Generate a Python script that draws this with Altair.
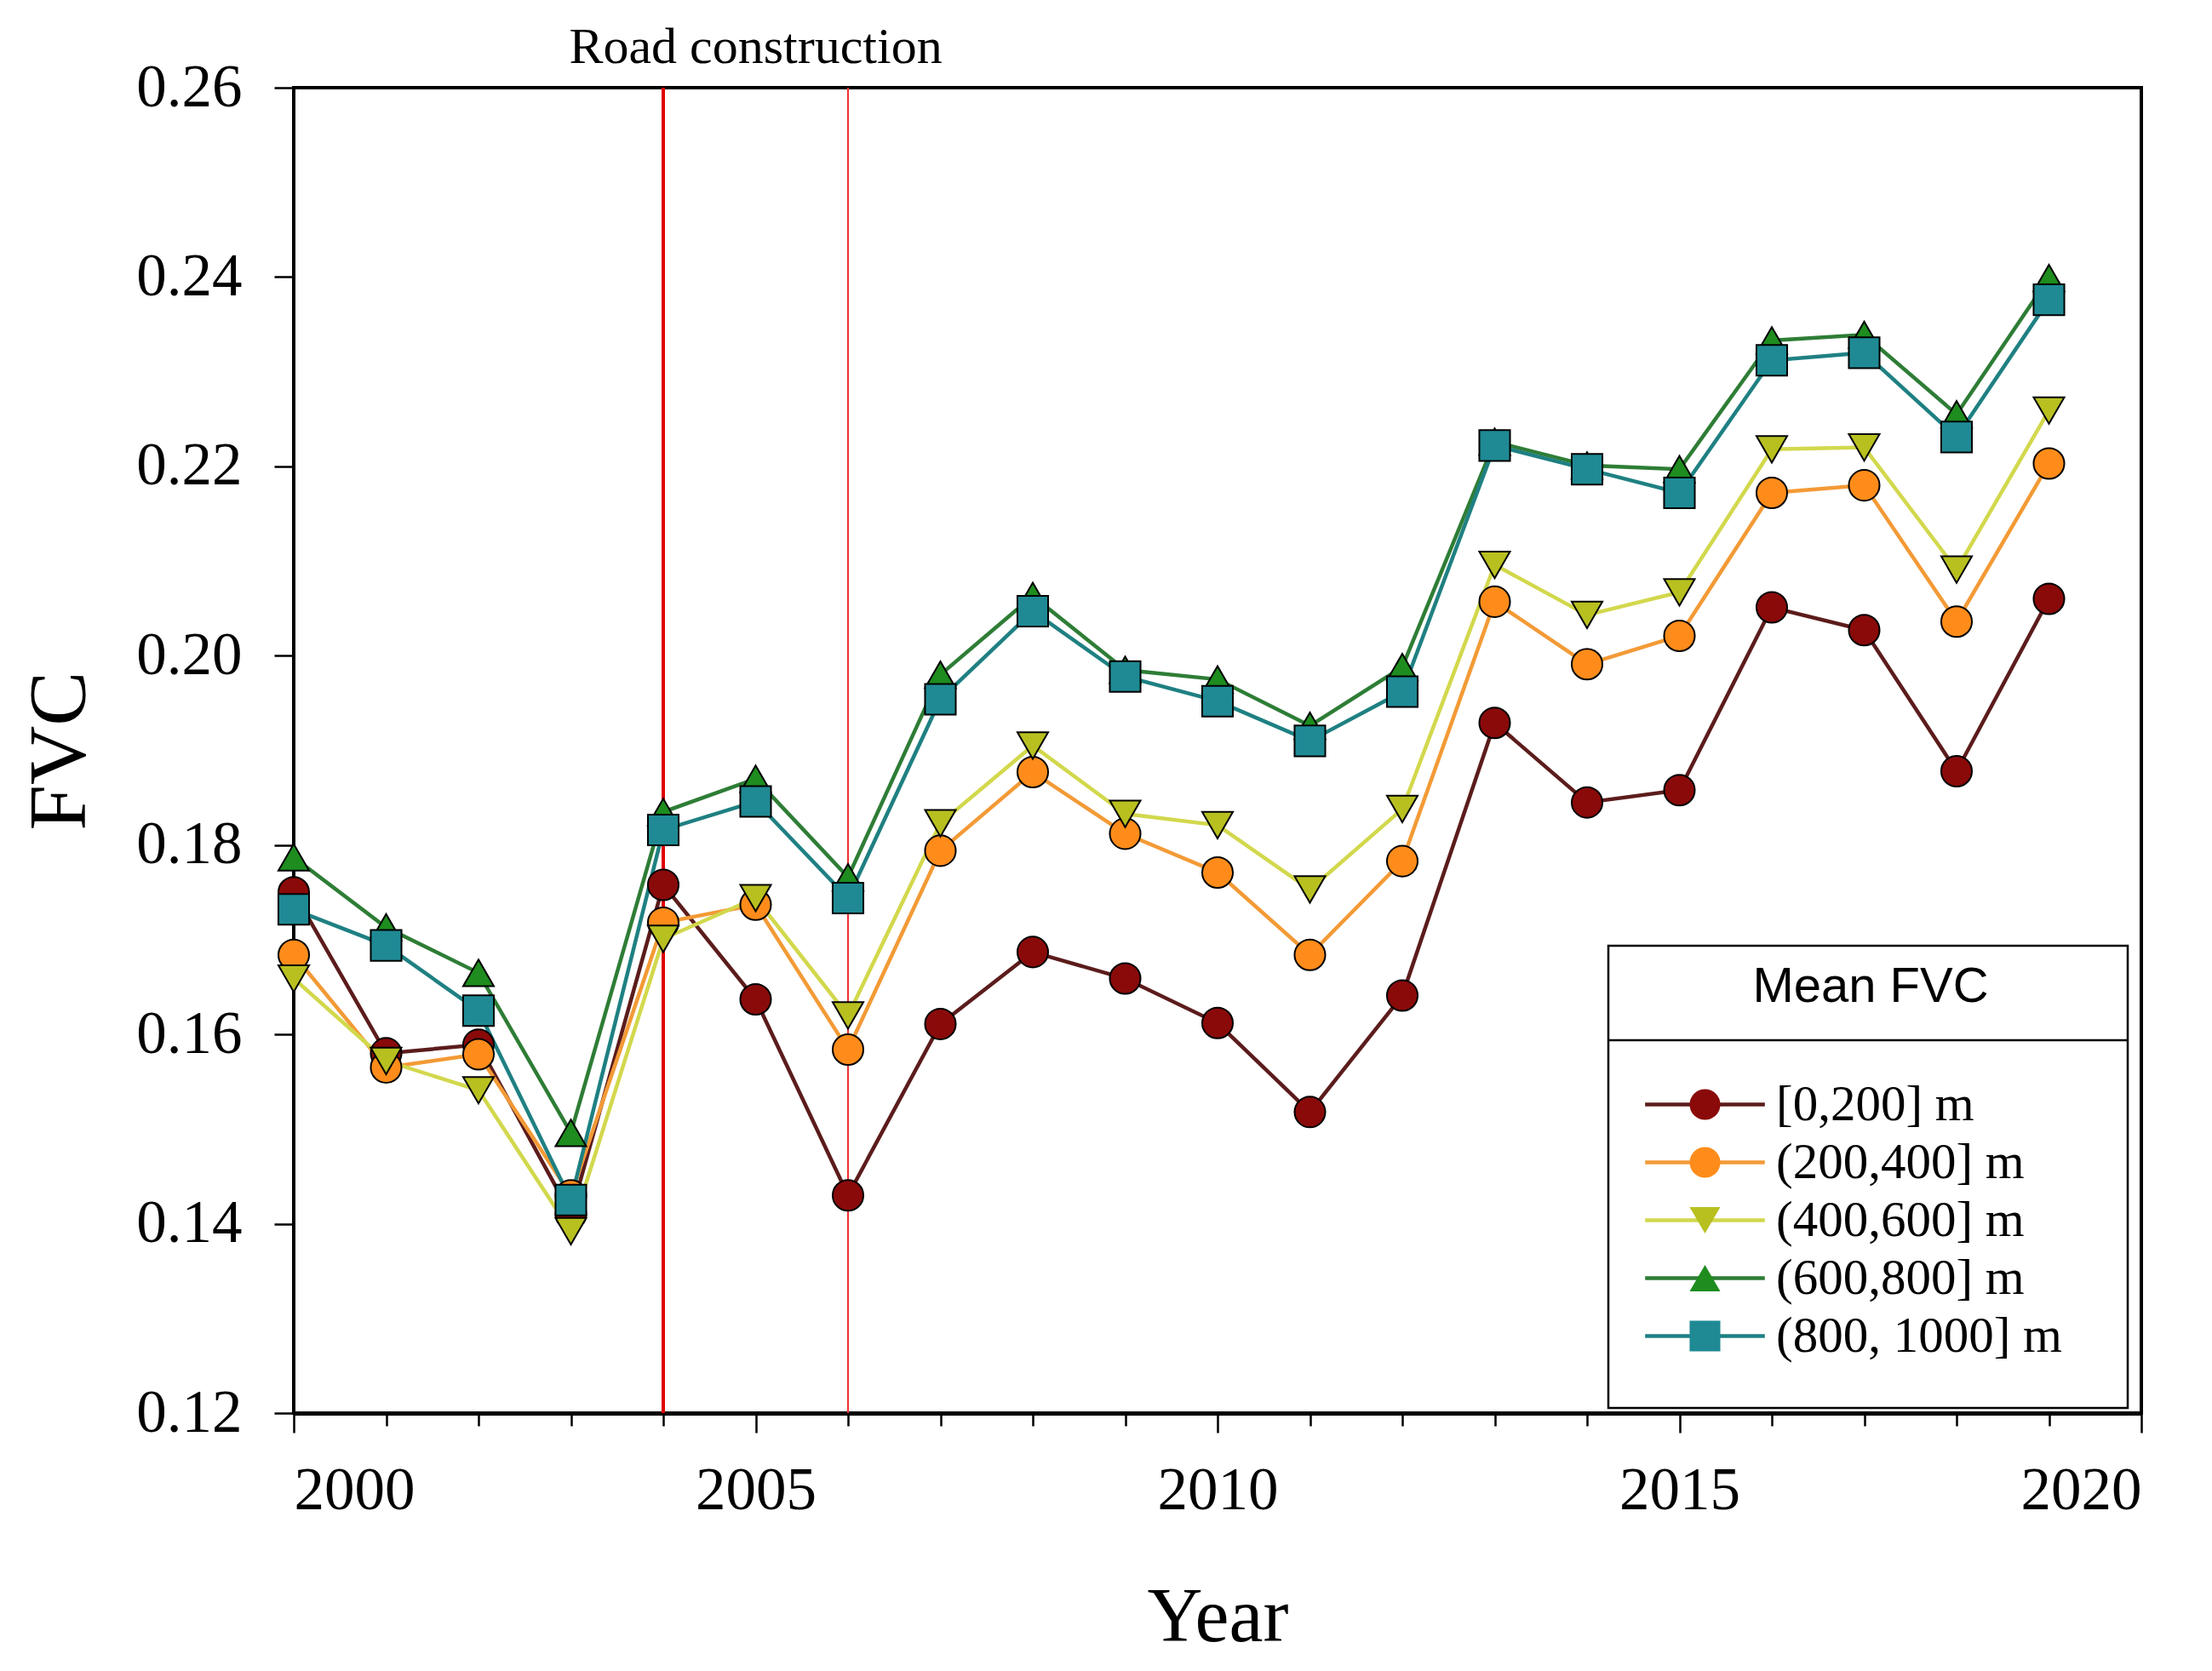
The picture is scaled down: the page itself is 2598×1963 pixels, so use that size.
import altair as alt
import pandas as pd

years = list(range(2000, 2020))

series_names = ["[0,200] m", "(200,400] m", "(400,600] m", "(600,800] m", "(800, 1000] m"]
fill_colors = ["#8a0a0a", "#ff8c1a", "#b8c020", "#1e8c1e", "#1f8a94"]
line_colors = ["#5c1c1c", "#f39a36", "#d2d84c", "#2e7d36", "#1f8082"]
shapes = ["circle", "circle", "triangle-down", "triangle-up", "square"]

fvc_0_200 = [0.1750, 0.1580, 0.1589, 0.1410, 0.1758, 0.1637, 0.1430, 0.1611, 0.1687, 0.1659,
             0.1612, 0.1518, 0.1641, 0.1929, 0.1845, 0.1858, 0.2051, 0.2027, 0.1878, 0.2060]
fvc_200_400 = [0.1684, 0.1565, 0.1579, 0.1430, 0.1718, 0.1737, 0.1584, 0.1794, 0.1877, 0.1812,
               0.1771, 0.1684, 0.1783, 0.2057, 0.1991, 0.2021, 0.2172, 0.2180, 0.2036, 0.2203]
fvc_400_600 = [0.1659, 0.1572, 0.1541, 0.1392, 0.1701, 0.1744, 0.1620, 0.1823, 0.1905, 0.1833,
               0.1821, 0.1753, 0.1838, 0.2096, 0.2043, 0.2067, 0.2218, 0.2220, 0.2091, 0.2259]
fvc_600_800 = [0.1787, 0.1713, 0.1665, 0.1496, 0.1835, 0.1870, 0.1766, 0.1980, 0.2063, 0.1985,
               0.1975, 0.1926, 0.1988, 0.2226, 0.2201, 0.2197, 0.2333, 0.2339, 0.2255, 0.2399]
fvc_800_1000 = [0.1732, 0.1694, 0.1625, 0.1425, 0.1816, 0.1846, 0.1744, 0.1954, 0.2047, 0.1978,
                0.1952, 0.1910, 0.1962, 0.2222, 0.2197, 0.2172, 0.2312, 0.2320, 0.2231, 0.2376]

construction_years = [2004, 2006]
annotation_year = [2005]
annotation_text = ["Road construction"]

all_series = [fvc_0_200, fvc_200_400, fvc_400_600, fvc_600_800, fvc_800_1000]
rows = []
for order, (name, values) in enumerate(zip(series_names, all_series)):
    for year, value in zip(years, values):
        rows.append({"year": year, "fvc": value, "zone": name, "order": order})
df = pd.DataFrame(rows)

serif = "Liberation Serif"
sans = "Liberation Sans"

x_enc = alt.X(
    "year:Q",
    title="Year",
    scale=alt.Scale(domain=[2000, 2020], nice=False, zero=False),
    axis=alt.Axis(
        values=list(range(2000, 2021)),
        format="d",
        labelExpr="datum.value % 5 === 0 ? datum.label : ''",
        tickSize={"condition": {"test": "datum.value % 5 === 0", "value": 23}, "value": 15},
        tickWidth=2.5,
        tickColor="black",
        domainColor="black",
        domainWidth=5,
        labelFont=serif,
        labelFontSize=71,
        labelColor="black",
        labelPadding=33,
        titleFont=serif,
        titleFontSize=90,
        titleFontWeight="normal",
        titleColor="black",
        titlePadding=70,
        grid=False,
    ),
)
y_enc = alt.Y(
    "fvc:Q",
    title="FVC",
    scale=alt.Scale(domain=[0.12, 0.26], nice=False, zero=False),
    axis=alt.Axis(
        values=[0.12, 0.14, 0.16, 0.18, 0.20, 0.22, 0.24, 0.26],
        format=".2f",
        tickSize=23,
        tickWidth=2.5,
        tickColor="black",
        domainColor="black",
        domainWidth=3,
        labelFont=serif,
        labelFontSize=71,
        labelColor="black",
        labelPadding=38,
        titleFont=serif,
        titleFontSize=96,
        titleFontWeight="normal",
        titleColor="black",
        titlePadding=40,
        grid=False,
    ),
)

legend_x = 1628
legend_y = 1028
common_legend = dict(
    orient="none",
    legendX=legend_x,
    legendY=legend_y,
    direction="vertical",
    title="Mean FVC",
    titleFont=sans,
    titleFontSize=58,
    titleFontWeight="normal",
    titleColor="black",
    titleAnchor="middle",
    titlePadding=79,
    titleLimit=2000,
    labelFont=serif,
    labelFontSize=59,
    labelColor="black",
    labelOffset=54,
    labelLimit=2000,
    symbolSize=1300,
    rowPadding=8,
    padding=0,
)

lines = alt.Chart(df).mark_line(strokeWidth=4.5).encode(
    x=x_enc,
    y=y_enc,
    color=alt.Color(
        "zone:N",
        scale=alt.Scale(domain=series_names, range=line_colors),
        legend=alt.Legend(
            symbolType="M-3.9,0H3.9",
            symbolStrokeWidth=4.5,
            **common_legend,
        ),
    ),
    detail="zone:N",
    order="order:Q",
)

marker_legend = alt.Legend(
    symbolStrokeColor="black",
    symbolStrokeWidth=2,
    titleOpacity=0,
    labelOpacity=0,
    **common_legend,
)
points = alt.Chart(df).mark_point(filled=True, size=1300, stroke="black", strokeWidth=2, opacity=1).encode(
    x="year:Q",
    y="fvc:Q",
    fill=alt.Fill("zone:N", scale=alt.Scale(domain=series_names, range=fill_colors), legend=marker_legend),
    shape=alt.Shape("zone:N", scale=alt.Scale(domain=series_names, range=shapes), legend=marker_legend),
    order="order:Q",
)

events = pd.DataFrame({"year": construction_years})
rule_2004 = alt.Chart(events[events.year == 2004]).mark_rule(color="#e00000", strokeWidth=4).encode(x="year:Q")
rule_2006 = alt.Chart(events[events.year == 2006]).mark_rule(color="#f03030", strokeWidth=2).encode(x="year:Q")

annot = pd.DataFrame({"year": annotation_year, "text": annotation_text})
label = alt.Chart(annot).mark_text(
    font=serif, fontSize=60, color="black", baseline="alphabetic", align="center"
).encode(x="year:Q", y=alt.value(-29), text="text:N")

# legend frame: outer box and the line under the title
frame_df = pd.DataFrame({"box": [0]})
legend_box = alt.Chart(frame_df).mark_rect(fill="white", stroke="black", strokeWidth=2.5).encode(
    x=alt.value(1544), x2=alt.value(2154), y=alt.value(1008), y2=alt.value(1551)
)
legend_divider = alt.Chart(frame_df).mark_rule(color="black", strokeWidth=2.5).encode(
    x=alt.value(1544), x2=alt.value(2154), y=alt.value(1119)
)

chart = (
    alt.layer(rule_2004, rule_2006, lines, points, label, legend_box, legend_divider)
    .resolve_legend(color="independent", fill="independent", shape="independent")
    .properties(
        width=2170,
        height=1557,
        autosize=alt.AutoSizeParams(type="none"),
        padding={"left": 337, "top": 95, "right": 75, "bottom": 295},
        background="white",
    )
    .configure_view(stroke="black", strokeWidth=4)
)

chart.save("out.html", embed_options={"renderer": "svg", "actions": False})
